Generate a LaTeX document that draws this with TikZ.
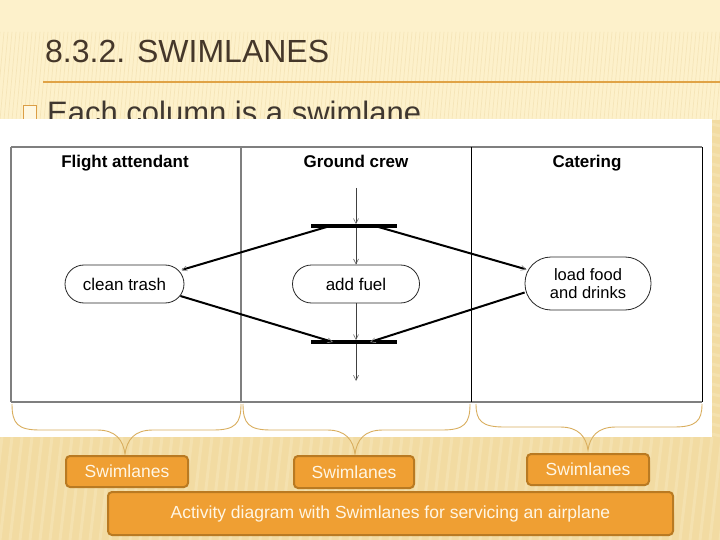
\documentclass[tikz,border=0pt]{standalone}
\usepackage{fontspec}
\setmainfont{Liberation Sans}
\usetikzlibrary{arrows.meta}
\definecolor{bgtop}{HTML}{FDF1CB}
\definecolor{bgband}{HTML}{F2DBA2}
\definecolor{stripe}{HTML}{EDD8A2}
\definecolor{stripe2}{HTML}{F7E6BA}
\definecolor{titlec}{HTML}{45372A}
\definecolor{bodyc}{HTML}{3F3730}
\definecolor{goldline}{HTML}{E0A346}
\definecolor{bracec}{HTML}{D9AE5E}
\definecolor{boxfill}{HTML}{EF9F33}
\definecolor{boxdraw}{HTML}{B97A22}
\definecolor{boxtext}{HTML}{FFF6E4}
\definecolor{framec}{HTML}{7F7F7F}
\tikzset{
  fs/.style={font=\fontsize{#1}{#1}\selectfont},
  lanehead/.style={font=\fontsize{17}{17}\selectfont\bfseries, anchor=base},
  activity/.style={draw=black!85, line width=0.8pt, fill=white, rectangle,
    inner sep=0pt, font=\fontsize{17}{18}\selectfont, align=center},
  forkbar/.style={fill=black, draw=none, rectangle, minimum width=86pt,
    minimum height=3.2pt, inner sep=0pt},
  flow/.style={draw=black!75, line width=0.9pt,
    -{Straight Barb[length=5pt,width=5pt,line width=0.6pt,color=black!60]}},
  branch/.style={draw=black, line width=2pt,
    -{Straight Barb[length=5pt,width=5pt,line width=0.6pt,color=black!45]}},
  bracepath/.style={draw=bracec, line width=0.9pt},
  sbox/.style={rectangle, rounded corners=4pt, fill=boxfill, draw=boxdraw,
    line width=2pt, text=boxtext, font=\fontsize{17.5}{18}\selectfont,
    inner sep=0pt},
}
\begin{document}
\begin{tikzpicture}[x=1pt,y=-1pt]
\useasboundingbox (0,0) rectangle (720,540);
% background
\fill[bgtop] (0,0) rectangle (720,540);
\foreach \x in {-20,-16,...,720} \draw[stripe, line width=0.7pt, opacity=0.45] (\x,120) -- (\x+8,32);
\fill[bgband] (0,437) rectangle (720,540);
\fill[bgband] (712,120) rectangle (720,437);
\foreach \x in {-40,-30,...,730} \draw[stripe2, line width=3pt, opacity=0.55] (\x,540) -- (\x+12,437);
\foreach \y in {124,134,...,434} \draw[stripe2, line width=3pt, opacity=0.55] (712,\y) -- (720,\y+2);
% title
\node[anchor=base west, inner sep=0pt, text=titlec, fs=32] (title) at (45,63) {8.3.2. SWIMLANES};
\draw[goldline, line width=1.6pt] (43,82) -- (720,82);
\draw[draw=goldline!85!brown, fill=bgtop!60!white, line width=0.8pt] (23,105.5) rectangle (36,122);
\node[anchor=base west, inner sep=0pt, text=bodyc, fs=31] (bullet) at (47,124) {Each column is a swimlane.};
% white picture area
\fill[white] (0,119.5) rectangle (712,437);
% swimlane frame
\draw[framec, line width=1.5pt] (11,147) -- (702,147);
\draw[framec, line width=2pt] (11,402) -- (702,402);
\draw[framec, line width=1.5pt] (11,147) -- (11,402);
\draw[framec, line width=1.5pt] (241,147) -- (241,402);
\draw[black, line width=1pt] (471.5,147) -- (471.5,402);
\draw[black, line width=1pt] (702,147) -- (702,402);
\node[lanehead] (h1) at (125,168) {Flight attendant};
\node[lanehead] (h2) at (356,168) {Ground crew};
\node[lanehead] (h3) at (587,168) {Catering};
% activities
\node[activity, minimum width=119pt, minimum height=38pt, rounded corners=19pt] (ct) at (124.5,284) {clean trash};
\node[activity, minimum width=127pt, minimum height=38pt, rounded corners=19pt] (af) at (356,284) {add fuel};
\node[activity, minimum width=126pt, minimum height=53pt, rounded corners=26pt, font=\fontsize{16.5}{18}\selectfont] (lf) at (588,283.5) {load food\\and drinks};
% bars
\node[forkbar] (f1) at (354,226) {};
\node[forkbar] (j1) at (354,342) {};
\coordinate (start) at (356,188);
\coordinate (end) at (356,381);
% flows
\draw[flow] (start) -- ([xshift=2pt]f1.north);
\draw[flow] ([xshift=2pt]f1.south) -- (af.north);
\draw[flow] (af.south) -- ([xshift=2pt]j1.north);
\draw[flow] ([xshift=2pt]j1.south) -- (end);
\draw[branch] ([xshift=-24pt]f1.center) -- ([xshift=-3pt,yshift=14pt]ct.east);
\draw[branch] ([xshift=21pt]f1.center) -- ([xshift=2pt,yshift=14pt]lf.west);
\draw[branch] ([xshift=-4pt,yshift=-12pt]ct.east) -- ([xshift=-21pt]j1.center);
\draw[branch] ([xshift=0pt,yshift=-9pt]lf.west) -- ([xshift=16pt]j1.center);
% braces
\draw[bracepath] (12,404) .. controls (12,424) and (18,430) .. (40,430) -- (97,430)
  .. controls (116,430) and (123,440) .. (125,454) .. controls (127,440) and (134,430) .. (153,430)
  -- (213,430) .. controls (235,430) and (241,424) .. (241,404);
\draw[bracepath] (243,404) .. controls (243,424) and (249,430) .. (271,430) -- (327,430)
  .. controls (346,430) and (353,440) .. (355,454) .. controls (357,440) and (364,430) .. (383,430)
  -- (442,430) .. controls (464,430) and (470,424) .. (470,404);
\draw[bracepath] (476,404) .. controls (476,421) and (482,427) .. (504,427) -- (560,427)
  .. controls (579,427) and (586,437) .. (588,450) .. controls (590,437) and (597,427) .. (616,427)
  -- (674,427) .. controls (696,427) and (702,421) .. (702,404);
% labels
\node[sbox, minimum width=122pt, minimum height=31pt] (s1) at (127,471.5) {Swimlanes};
\node[sbox, minimum width=120pt, minimum height=32pt] (s2) at (354,472) {Swimlanes};
\node[sbox, minimum width=122pt, minimum height=31pt] (s3) at (588,469.5) {Swimlanes};
\node[sbox, minimum width=565pt, minimum height=43pt] (cap) at (390.5,513.5) {Activity diagram with Swimlanes for servicing an airplane};
\end{tikzpicture}
\end{document}
